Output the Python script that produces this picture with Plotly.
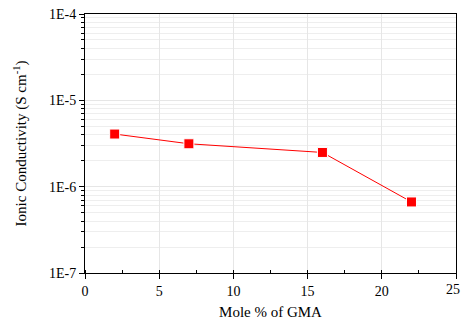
import plotly.graph_objects as go

mole_pct = [2, 7, 16, 22]
conductivity = [4.07e-6, 3.14e-6, 2.49e-6, 6.65e-7]
y_tick_vals = [1e-7, 1e-6, 1e-5, 1e-4]
y_tick_text = ["1E-7", "1E-6", "1E-5", "1E-4"]
x_tick_vals = [0, 5, 10, 15, 20, 25]
x_tick_text = ["0", "5", "10", "15", "20", ""]
x_last_label = "25"

FONT = "Liberation Serif, Times New Roman, serif"
fig = go.Figure()
fig.add_trace(go.Scatter(
    x=mole_pct, y=conductivity, mode="lines+markers",
    line=dict(color="#ff0000", width=1),
    marker=dict(symbol="square", size=10, color="#ff0000", line=dict(color="white", width=1)),
    showlegend=False,
))
fig.update_layout(
    width=462, height=331,
    margin=dict(l=85, r=6, t=14, b=58),
    paper_bgcolor="white", plot_bgcolor="white",
    font=dict(family=FONT, size=14, color="black"),
)
fig.update_xaxes(
    range=[0, 25], tickvals=x_tick_vals, ticktext=x_tick_text,
    ticks="outside", ticklen=5, tickcolor="black",
    showline=True, linecolor="black", linewidth=1, mirror=True,
    showgrid=True, gridcolor="#e6e6e6", gridwidth=1, zeroline=False,
    minor=dict(dtick=2.5, ticks="inside", ticklen=3, tickcolor="black", showgrid=False),
    title=dict(text="Mole % of GMA", font=dict(family=FONT, size=15), standoff=8),
    tickfont=dict(family=FONT, size=14),
)
fig.add_annotation(
    x=x_tick_vals[-1], xref="x", y=0, yref="paper", text=x_last_label,
    showarrow=False, xanchor="right", yanchor="top", xshift=6, yshift=-7,
    font=dict(family=FONT, size=14, color="black"),
)
fig.update_yaxes(
    type="log", range=[-7, -4], tickvals=y_tick_vals, ticktext=y_tick_text,
    ticks="outside", ticklen=5, tickcolor="black",
    showline=True, linecolor="black", linewidth=1, mirror=True,
    showgrid=True, gridcolor="#e6e6e6", gridwidth=1, zeroline=False,
    minor=dict(dtick="D1", ticks="outside", ticklen=3, tickcolor="black", showgrid=True, gridcolor="#eeeeee"),
    title=dict(text="Ionic Conductivity (S cm<sup>-1</sup>)", font=dict(family=FONT, size=15), standoff=18),
    tickfont=dict(family=FONT, size=14),
)
fig.write_html("out.html", config={"displayModeBar": False},
               post_script="document.body.style.margin='0';document.body.style.padding='0';")
